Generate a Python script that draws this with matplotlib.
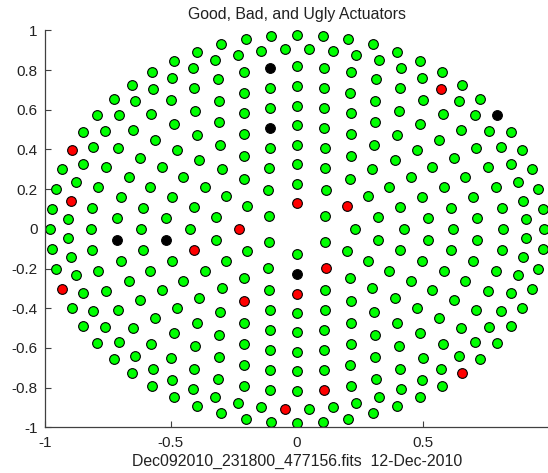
import matplotlib
matplotlib.use("Agg")
import matplotlib.pyplot as plt
import numpy as np

plt.rcParams["font.family"] = ["Liberation Sans", "DejaVu Sans"]
plt.rcParams["axes.unicode_minus"] = False

# Actuator positions on the mirror (normalised units), listed ring by ring,
# inner ring first, each ring counter-clockwise from the +x side.
actuator_x = [
    # ring 1
    0.112, 0.000, -0.112, -0.112, 0.000, 0.112,
    # ring 2
    0.228, 0.197, 0.114, 0.000, -0.114, -0.197, -0.228, -0.197, -0.114, 0.000, 0.114, 0.197,
    # ring 3
    0.321, 0.282, 0.210, 0.111, 0.000, -0.111, -0.210, -0.282, -0.321,
    -0.321, -0.282, -0.210, -0.111, 0.000, 0.111, 0.210, 0.282, 0.321,
    # ring 4
    0.423, 0.409, 0.366, 0.299, 0.212, 0.109, 0.000, -0.109, -0.212, -0.299, -0.366, -0.409,
    -0.423, -0.409, -0.366, -0.299, -0.212, -0.109, 0.000, 0.109, 0.212, 0.299, 0.366, 0.409,
    # ring 5
    0.518, 0.496, 0.451, 0.387, 0.306, 0.212, 0.108, 0.000, -0.108, -0.212, -0.306, -0.387,
    -0.451, -0.496, -0.518, -0.518, -0.496, -0.451, -0.387, -0.306, -0.212, -0.108, 0.000,
    0.108, 0.212, 0.306, 0.387, 0.451, 0.496, 0.518,
    # ring 6
    0.619, 0.610, 0.582, 0.536, 0.474, 0.398, 0.310, 0.212, 0.107, 0.000, -0.107, -0.212,
    -0.310, -0.398, -0.474, -0.536, -0.582, -0.610, -0.619, -0.610, -0.582, -0.536, -0.474,
    -0.398, -0.310, -0.212, -0.107, 0.000, 0.107, 0.212, 0.310, 0.398, 0.474, 0.536, 0.582, 0.610,
    # ring 7
    0.715, 0.699, 0.667, 0.621, 0.561, 0.488, 0.404, 0.311, 0.211, 0.107, 0.000,
    -0.107, -0.211, -0.311, -0.404, -0.488, -0.561, -0.621, -0.667, -0.699, -0.715,
    -0.715, -0.699, -0.667, -0.621, -0.561, -0.488, -0.404, -0.311, -0.211, -0.107, 0.000,
    0.107, 0.211, 0.311, 0.404, 0.488, 0.561, 0.621, 0.667, 0.699, 0.715,
    # ring 8
    0.818, 0.811, 0.790, 0.756, 0.708, 0.649, 0.578, 0.498, 0.409, 0.313, 0.212, 0.107,
    0.000, -0.107, -0.212, -0.313, -0.409, -0.498, -0.578, -0.649, -0.708, -0.756, -0.790,
    -0.811, -0.818, -0.811, -0.790, -0.756, -0.708, -0.649, -0.578, -0.498, -0.409, -0.313,
    -0.212, -0.107, 0.000, 0.107, 0.212, 0.313, 0.409, 0.498, 0.578, 0.649, 0.708, 0.756,
    0.790, 0.811,
    # ring 9
    0.907, 0.897, 0.877, 0.848, 0.809, 0.762, 0.706, 0.642, 0.571, 0.495, 0.412, 0.325,
    0.235, 0.142, 0.048, -0.048, -0.142, -0.235, -0.325, -0.412, -0.495, -0.571, -0.642,
    -0.706, -0.762, -0.809, -0.848, -0.877, -0.897, -0.907, -0.907, -0.897, -0.877, -0.848,
    -0.809, -0.762, -0.706, -0.642, -0.571, -0.495, -0.412, -0.325, -0.235, -0.142, -0.048,
    0.048, 0.142, 0.235, 0.325, 0.412, 0.495, 0.571, 0.642, 0.706, 0.762, 0.809, 0.848,
    0.877, 0.897, 0.907,
    # ring 10
    0.978, 0.973, 0.957, 0.930, 0.893, 0.847, 0.791, 0.727, 0.654, 0.575, 0.489, 0.398,
    0.302, 0.203, 0.102, 0.000, -0.102, -0.203, -0.302, -0.398, -0.489, -0.575, -0.654,
    -0.727, -0.791, -0.847, -0.893, -0.930, -0.957, -0.973, -0.978, -0.973, -0.957, -0.930,
    -0.893, -0.847, -0.791, -0.727, -0.654, -0.575, -0.489, -0.398, -0.302, -0.203, -0.102,
    0.000, 0.102, 0.203, 0.302, 0.398, 0.489, 0.575, 0.654, 0.727, 0.791, 0.847, 0.893,
    0.930, 0.957, 0.973,
]

actuator_y = [
    # ring 1
    0.065, 0.129, 0.065, -0.065, -0.129, -0.065,
    # ring 2
    0.000, 0.114, 0.197, 0.228, 0.197, 0.114, 0.000, -0.114, -0.197, -0.228, -0.197, -0.114,
    # ring 3
    0.057, 0.163, 0.250, 0.306, 0.326, 0.306, 0.250, 0.163, 0.057,
    -0.057, -0.163, -0.250, -0.306, -0.326, -0.306, -0.250, -0.163, -0.057,
    # ring 4
    0.000, 0.109, 0.212, 0.299, 0.366, 0.409, 0.423, 0.409, 0.366, 0.299, 0.212, 0.109,
    0.000, -0.109, -0.212, -0.299, -0.366, -0.409, -0.423, -0.409, -0.366, -0.299, -0.212, -0.109,
    # ring 5
    0.054, 0.161, 0.261, 0.349, 0.421, 0.476, 0.510, 0.521, 0.510, 0.476, 0.421, 0.349,
    0.261, 0.161, 0.054, -0.054, -0.161, -0.261, -0.349, -0.421, -0.476, -0.510, -0.521,
    -0.510, -0.476, -0.421, -0.349, -0.261, -0.161, -0.054,
    # ring 6
    0.000, 0.107, 0.212, 0.310, 0.398, 0.474, 0.536, 0.582, 0.610, 0.619, 0.610, 0.582,
    0.536, 0.474, 0.398, 0.310, 0.212, 0.107, 0.000, -0.107, -0.212, -0.310, -0.398,
    -0.474, -0.536, -0.582, -0.610, -0.619, -0.610, -0.582, -0.536, -0.474, -0.398, -0.310, -0.212, -0.107,
    # ring 7
    0.054, 0.160, 0.262, 0.359, 0.447, 0.526, 0.592, 0.646, 0.685, 0.709, 0.717,
    0.709, 0.685, 0.646, 0.592, 0.526, 0.447, 0.359, 0.262, 0.160, 0.054,
    -0.054, -0.160, -0.262, -0.359, -0.447, -0.526, -0.592, -0.646, -0.685, -0.709, -0.717,
    -0.709, -0.685, -0.646, -0.592, -0.526, -0.447, -0.359, -0.262, -0.160, -0.054,
    # ring 8
    0.000, 0.107, 0.212, 0.313, 0.409, 0.498, 0.578, 0.649, 0.708, 0.756, 0.790, 0.811,
    0.818, 0.811, 0.790, 0.756, 0.708, 0.649, 0.578, 0.498, 0.409, 0.313, 0.212,
    0.107, 0.000, -0.107, -0.212, -0.313, -0.409, -0.498, -0.578, -0.649, -0.708, -0.756,
    -0.790, -0.811, -0.818, -0.811, -0.790, -0.756, -0.708, -0.649, -0.578, -0.498, -0.409, -0.313,
    -0.212, -0.107,
    # ring 9
    0.048, 0.142, 0.235, 0.325, 0.412, 0.495, 0.571, 0.642, 0.706, 0.762, 0.809, 0.848,
    0.877, 0.897, 0.907, 0.907, 0.897, 0.877, 0.848, 0.809, 0.762, 0.706, 0.642,
    0.571, 0.495, 0.412, 0.325, 0.235, 0.142, 0.048, -0.048, -0.142, -0.235, -0.325,
    -0.412, -0.495, -0.571, -0.642, -0.706, -0.762, -0.809, -0.848, -0.877, -0.897, -0.907,
    -0.907, -0.897, -0.877, -0.848, -0.809, -0.762, -0.706, -0.642, -0.571, -0.495, -0.412, -0.325,
    -0.235, -0.142, -0.048,
    # ring 10
    0.000, 0.102, 0.203, 0.302, 0.398, 0.489, 0.575, 0.654, 0.727, 0.791, 0.847, 0.893,
    0.930, 0.957, 0.973, 0.978, 0.973, 0.957, 0.930, 0.893, 0.847, 0.791, 0.727,
    0.654, 0.575, 0.489, 0.398, 0.302, 0.203, 0.102, 0.000, -0.102, -0.203, -0.302,
    -0.398, -0.489, -0.575, -0.654, -0.727, -0.791, -0.847, -0.893, -0.930, -0.957, -0.973,
    -0.978, -0.973, -0.957, -0.930, -0.893, -0.847, -0.791, -0.727, -0.654, -0.575, -0.489, -0.398,
    -0.302, -0.203, -0.102,
]

# Indices into the actuator lists
bad_actuators = [1, 7, 12, 16, 31, 49, 52, 205, 224, 244, 260, 302, 309, 328]
ugly_actuators = [15, 68, 75, 147, 181, 282]

title_text = "Good, Bad, and Ugly Actuators"
xlabel_text = "Dec092010_231800_477156.fits  12-Dec-2010"
x_ticks = [-1, -0.5, 0, 0.5, 1]
x_tick_labels = ["-1", "-0.5", "0", "0.5", ""]
y_ticks = [1, 0.8, 0.6, 0.4, 0.2, 0, -0.2, -0.4, -0.6, -0.8, -1]
y_tick_labels = ["1", "0.8", "0.6", "0.4", "0.2", "0", "-0.2", "-0.4", "-0.6", "-0.8", "-1"]

ax_x = np.array(actuator_x)
ax_y = np.array(actuator_y)
status = np.zeros(len(ax_x), dtype=int)
status[bad_actuators] = 1
status[ugly_actuators] = 2

fig = plt.figure(figsize=(5.48, 4.73), dpi=100)
ax = fig.add_axes([0.0816, 0.0966, 0.9208, 0.8393])

marker_kw = dict(marker="o", linestyle="none", markersize=7.0,
                 markeredgecolor="black", markeredgewidth=0.8)
for code, colour in [(0, "#00ff00"), (1, "#ff0000"), (2, "#000000")]:
    sel = status == code
    ax.plot(ax_x[sel], ax_y[sel], markerfacecolor=colour, **marker_kw)

ax.set_xlim(-1, 1)
ax.set_ylim(-1, 1)
ax.set_xticks(x_ticks)
ax.set_xticklabels(x_tick_labels)
ax.set_yticks(y_ticks)
ax.set_yticklabels(y_tick_labels)

for side in ("top", "right"):
    ax.spines[side].set_visible(False)
for side in ("left", "bottom"):
    ax.spines[side].set_color("#404040")
    ax.spines[side].set_linewidth(0.9)

ax.tick_params(direction="in", length=4, width=0.8, color="#404040",
               labelsize=11, labelcolor="#222222")
ax.tick_params(axis="x", pad=6)
ax.tick_params(axis="y", pad=5)

ax.set_title(title_text, fontsize=11.4, color="#222222", pad=8)
ax.set_xlabel(xlabel_text, fontsize=11.4, color="#222222", labelpad=3)

fig.savefig("out.png", dpi=100)
